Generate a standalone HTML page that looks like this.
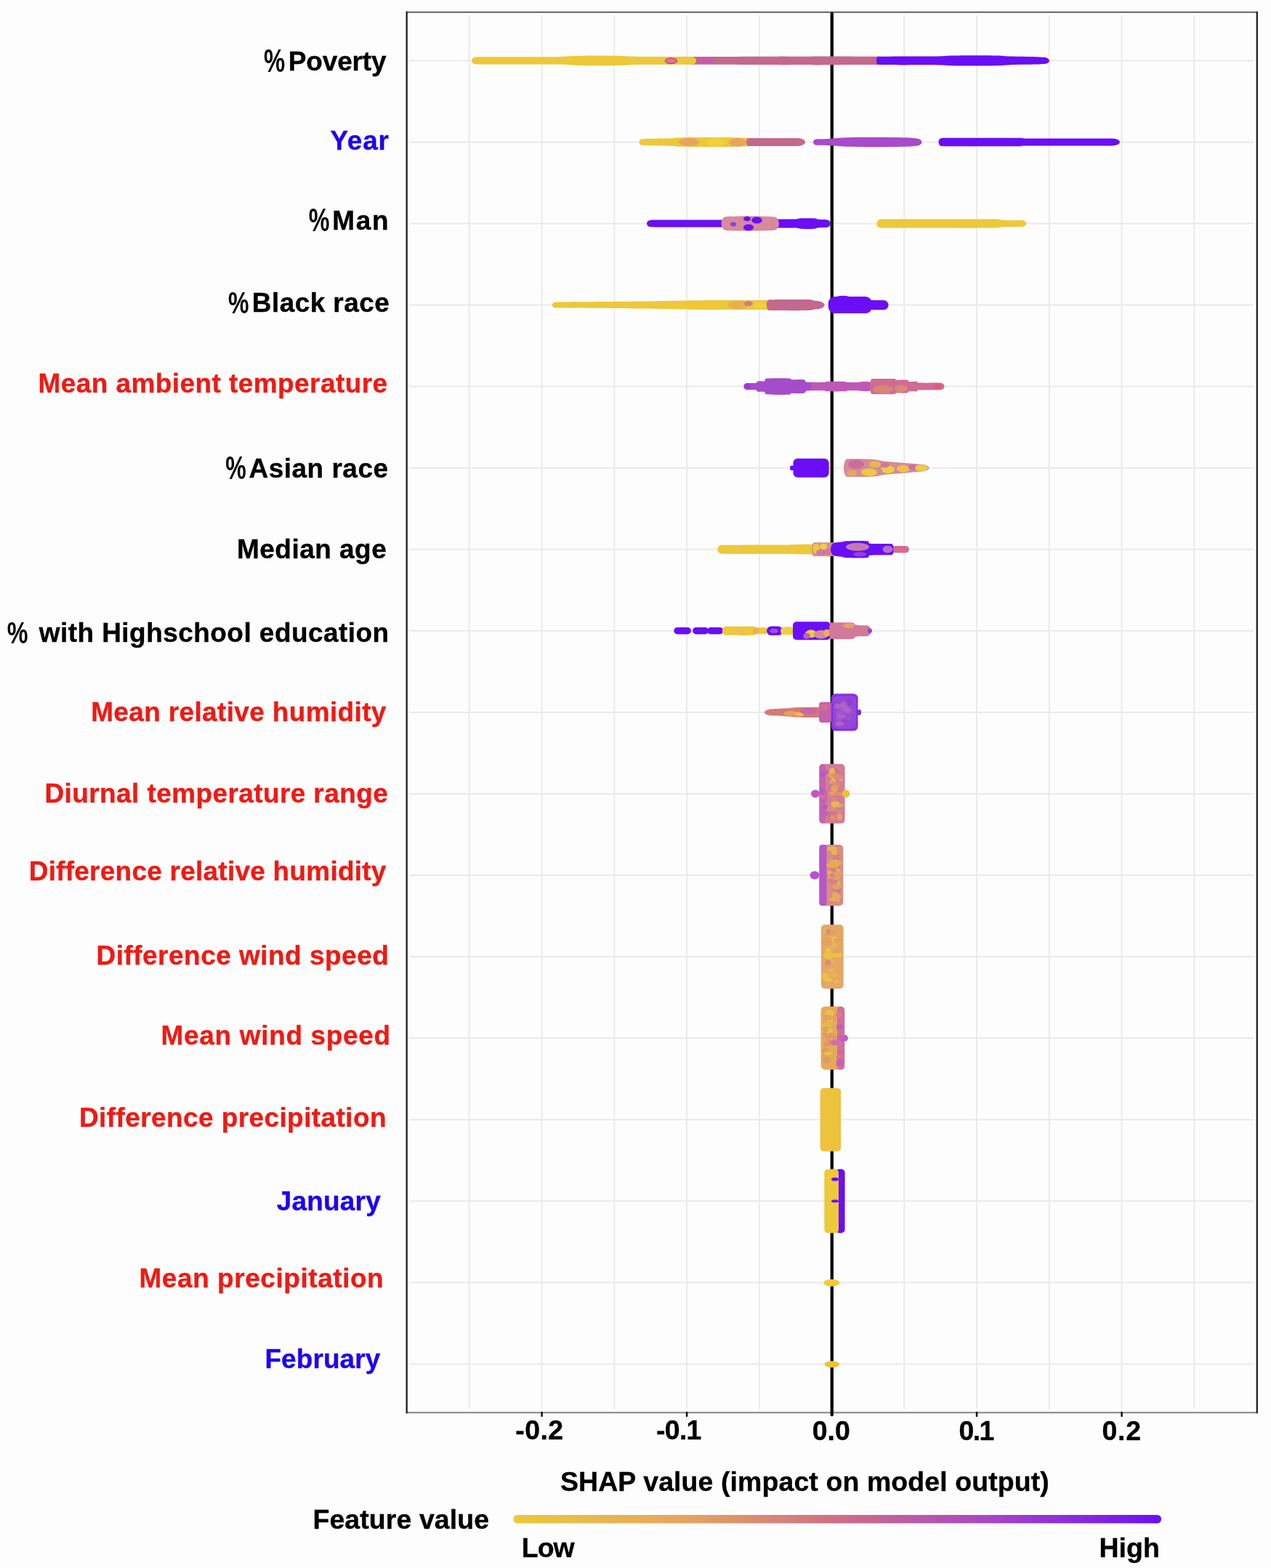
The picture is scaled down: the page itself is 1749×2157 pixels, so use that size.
<!DOCTYPE html><html><head><meta charset="utf-8"><title>SHAP summary plot</title><style>
html,body{margin:0;padding:0;background:#fdfdfd;overflow:hidden;}
svg{display:block;}
text{font-family:"Liberation Sans",Arial,sans-serif;font-weight:bold;}
</style></head><body>
<svg width="1749" height="2157" viewBox="0 0 1749 2157">
<defs><linearGradient id="cb" x1="0" x2="1" y1="0" y2="0"><stop offset="0" stop-color="#EBC83C"/><stop offset="0.25" stop-color="#E4A85E"/><stop offset="0.5" stop-color="#CF6E86"/><stop offset="0.75" stop-color="#A444C8"/><stop offset="1" stop-color="#6A10F6"/></linearGradient></defs>
<rect width="1749" height="2157" fill="#FDFDFD"/>
<line x1="645.8" y1="21" x2="645.8" y2="1938" stroke="#EAEAEA" stroke-width="2"/>
<line x1="745.6" y1="21" x2="745.6" y2="1938" stroke="#EAEAEA" stroke-width="2"/>
<line x1="845.3" y1="21" x2="845.3" y2="1938" stroke="#EAEAEA" stroke-width="2"/>
<line x1="945.1" y1="21" x2="945.1" y2="1938" stroke="#EAEAEA" stroke-width="2"/>
<line x1="1044.8" y1="21" x2="1044.8" y2="1938" stroke="#EAEAEA" stroke-width="2"/>
<line x1="1244.3" y1="21" x2="1244.3" y2="1938" stroke="#EAEAEA" stroke-width="2"/>
<line x1="1344.1" y1="21" x2="1344.1" y2="1938" stroke="#EAEAEA" stroke-width="2"/>
<line x1="1443.8" y1="21" x2="1443.8" y2="1938" stroke="#EAEAEA" stroke-width="2"/>
<line x1="1543.6" y1="21" x2="1543.6" y2="1938" stroke="#EAEAEA" stroke-width="2"/>
<line x1="1643.3" y1="21" x2="1643.3" y2="1938" stroke="#EAEAEA" stroke-width="2"/>
<line x1="564" y1="83.4" x2="1725" y2="83.4" stroke="#EAEAEA" stroke-width="2"/>
<line x1="564" y1="195.5" x2="1725" y2="195.5" stroke="#EAEAEA" stroke-width="2"/>
<line x1="564" y1="307.5" x2="1725" y2="307.5" stroke="#EAEAEA" stroke-width="2"/>
<line x1="564" y1="419.6" x2="1725" y2="419.6" stroke="#EAEAEA" stroke-width="2"/>
<line x1="564" y1="531.6" x2="1725" y2="531.6" stroke="#EAEAEA" stroke-width="2"/>
<line x1="564" y1="643.7" x2="1725" y2="643.7" stroke="#EAEAEA" stroke-width="2"/>
<line x1="564" y1="755.8" x2="1725" y2="755.8" stroke="#EAEAEA" stroke-width="2"/>
<line x1="564" y1="867.8" x2="1725" y2="867.8" stroke="#EAEAEA" stroke-width="2"/>
<line x1="564" y1="979.9" x2="1725" y2="979.9" stroke="#EAEAEA" stroke-width="2"/>
<line x1="564" y1="1091.9" x2="1725" y2="1091.9" stroke="#EAEAEA" stroke-width="2"/>
<line x1="564" y1="1204.0" x2="1725" y2="1204.0" stroke="#EAEAEA" stroke-width="2"/>
<line x1="564" y1="1316.1" x2="1725" y2="1316.1" stroke="#EAEAEA" stroke-width="2"/>
<line x1="564" y1="1428.1" x2="1725" y2="1428.1" stroke="#EAEAEA" stroke-width="2"/>
<line x1="564" y1="1540.2" x2="1725" y2="1540.2" stroke="#EAEAEA" stroke-width="2"/>
<line x1="564" y1="1652.2" x2="1725" y2="1652.2" stroke="#EAEAEA" stroke-width="2"/>
<line x1="564" y1="1764.3" x2="1725" y2="1764.3" stroke="#EAEAEA" stroke-width="2"/>
<line x1="564" y1="1876.4" x2="1725" y2="1876.4" stroke="#EAEAEA" stroke-width="2"/>
<line x1="559.7" y1="16.7" x2="1729.8" y2="16.7" stroke="#606060" stroke-width="2"/>
<line x1="559.7" y1="1943.3" x2="1729.8" y2="1943.3" stroke="#858585" stroke-width="2"/>
<line x1="559.7" y1="15.8" x2="559.7" y2="1944.2" stroke="#1E1E1E" stroke-width="2.3"/>
<line x1="1729.8" y1="15.8" x2="1729.8" y2="1944.2" stroke="#1E1E1E" stroke-width="2.3"/>
<line x1="1144.8" y1="18.8" x2="1144.8" y2="1946.3" stroke="#000" stroke-width="4.3" stroke-linecap="round"/>
<line x1="745.6" y1="1943" x2="745.6" y2="1948" stroke="#111" stroke-width="2.5" stroke-linecap="round"/>
<line x1="945.1" y1="1943" x2="945.1" y2="1948" stroke="#111" stroke-width="2.5" stroke-linecap="round"/>
<line x1="1344.1" y1="1943" x2="1344.1" y2="1948" stroke="#111" stroke-width="2.5" stroke-linecap="round"/>
<line x1="1543.6" y1="1943" x2="1543.6" y2="1948" stroke="#111" stroke-width="2.5" stroke-linecap="round"/>
<g>
<path d="M950.0,78.0 C968.3,78.0 1039.2,77.9 1060.0,77.8 C1080.8,77.7 1069.2,77.4 1075.0,77.4 C1080.8,77.4 1086.7,77.8 1095.0,77.8 C1103.3,77.8 1117.5,77.4 1125.0,77.4 C1132.5,77.4 1125.8,77.5 1140.0,77.6 C1154.2,77.7 1198.3,77.8 1210.0,77.8 A5.6,5.6 0 0 1 1210.0,89.0 C1198.3,89.0 1154.2,89.1 1140.0,89.2 C1125.8,89.3 1132.5,89.4 1125.0,89.4 C1117.5,89.4 1103.3,89.0 1095.0,89.0 C1086.7,89.0 1080.8,89.4 1075.0,89.4 C1069.2,89.4 1080.8,89.1 1060.0,89.0 C1039.2,88.9 968.3,88.8 950.0,88.8 A3.0,5.4 0 0 1 950.0,78.0Z" fill="#C4688E" />
<ellipse cx="972.0" cy="83.4" rx="12.0" ry="4.0" fill="#C65AB0" />
<path d="M654.0,78.8 C655.8,78.7 647.3,78.4 665.0,78.3 C682.7,78.2 739.2,78.4 760.0,78.2 C780.8,78.0 780.5,77.3 790.0,77.0 C799.5,76.7 807.0,76.4 817.0,76.4 C827.0,76.4 839.5,76.6 850.0,76.8 C860.5,77.1 863.0,77.7 880.0,77.9 C897.0,78.1 940.0,78.0 952.0,78.1 A6.0,5.3 0 0 1 952.0,88.8 C940.0,88.8 897.0,88.7 880.0,88.9 C863.0,89.1 860.5,89.8 850.0,90.0 C839.5,90.2 827.0,90.4 817.0,90.4 C807.0,90.4 799.5,90.1 790.0,89.8 C780.5,89.5 780.8,88.8 760.0,88.6 C739.2,88.4 682.7,88.6 665.0,88.5 C647.3,88.4 655.8,88.1 654.0,88.0 A5.0,4.6 0 0 1 654.0,78.8Z" fill="#EDC83A" />
<ellipse cx="923.5" cy="83.7" rx="8.0" ry="3.8" fill="#D87898" stroke="#C0506A" stroke-width="1.4"/>
<path d="M1208.0,77.8 C1213.3,77.7 1226.3,77.5 1240.0,77.4 C1253.7,77.3 1278.3,77.6 1290.0,77.4 C1301.7,77.2 1301.7,76.7 1310.0,76.5 C1318.3,76.3 1329.5,76.2 1340.0,76.2 C1350.5,76.2 1364.7,76.3 1373.0,76.5 C1381.3,76.7 1381.3,77.3 1390.0,77.6 C1398.7,77.9 1417.3,78.0 1425.0,78.2 C1432.7,78.4 1434.2,78.7 1436.0,78.8 A8.0,4.6 0 0 1 1436.0,88.0 C1434.2,88.1 1432.7,88.4 1425.0,88.6 C1417.3,88.8 1398.7,88.9 1390.0,89.2 C1381.3,89.5 1381.3,90.1 1373.0,90.3 C1364.7,90.5 1350.5,90.6 1340.0,90.6 C1329.5,90.6 1318.3,90.5 1310.0,90.3 C1301.7,90.1 1301.7,89.6 1290.0,89.4 C1278.3,89.2 1253.7,89.5 1240.0,89.4 C1226.3,89.3 1213.3,89.1 1208.0,89.0 A2.0,5.6 0 0 1 1208.0,77.8Z" fill="#6A0EF6" />
<path d="M884.0,191.3 C885.8,191.2 888.2,190.9 895.0,190.8 C901.8,190.6 918.3,190.4 925.0,190.2 C931.7,189.9 924.2,189.4 935.0,189.2 C945.8,189.0 976.7,188.9 990.0,189.0 C1003.3,189.0 1008.0,189.1 1015.0,189.3 C1022.0,189.4 1029.2,189.8 1032.0,189.9 A5.6,5.6 0 0 1 1032.0,201.1 C1029.2,201.2 1022.0,201.5 1015.0,201.7 C1008.0,201.8 1003.3,201.9 990.0,202.0 C976.7,202.0 945.8,202.0 935.0,201.8 C924.2,201.6 931.7,201.0 925.0,200.8 C918.3,200.5 901.8,200.3 895.0,200.2 C888.2,200.0 885.8,199.7 884.0,199.7 A4.6,4.2 0 0 1 884.0,191.3Z" fill="#EDC83A" />
<ellipse cx="948.0" cy="195.5" rx="14.0" ry="5.8" fill="#E6A55E" />
<ellipse cx="985.0" cy="195.5" rx="12.0" ry="6.0" fill="#F0D03C" />
<ellipse cx="1015.0" cy="196.0" rx="12.0" ry="5.8" fill="#E6A55E" />
<path d="M1030.0,189.9 C1040.8,189.9 1083.3,190.0 1095.0,190.1 C1106.7,190.2 1099.2,190.4 1100.0,190.5 A8.0,5.0 0 0 1 1100.0,200.5 C1099.2,200.5 1106.7,200.8 1095.0,200.9 C1083.3,201.0 1040.8,201.0 1030.0,201.1 A3.0,5.6 0 0 1 1030.0,189.9Z" fill="#C4688E" />
<path d="M1124.0,191.2 C1126.7,191.1 1133.2,191.2 1140.0,190.9 C1146.8,190.5 1155.0,189.5 1165.0,189.2 C1175.0,188.8 1186.7,188.7 1200.0,188.7 C1213.3,188.7 1235.0,188.9 1245.0,189.2 C1255.0,189.4 1257.5,190.1 1260.0,190.3 A8.5,5.2 0 0 1 1260.0,200.7 C1257.5,200.8 1255.0,201.5 1245.0,201.8 C1235.0,202.0 1213.3,202.3 1200.0,202.3 C1186.7,202.3 1175.0,202.1 1165.0,201.8 C1155.0,201.4 1146.8,200.4 1140.0,200.1 C1133.2,199.7 1126.7,199.8 1124.0,199.8 A5.0,4.3 0 0 1 1124.0,191.2Z" fill="#A74ACB" />
<path d="M1296.0,190.0 C1298.3,189.9 1292.0,189.8 1310.0,189.8 C1328.0,189.7 1387.0,189.6 1404.0,189.8 C1421.0,189.9 1391.0,190.3 1412.0,190.5 C1433.0,190.6 1510.3,190.5 1530.0,190.5 A11.0,5.0 0 0 1 1530.0,200.5 C1510.3,200.5 1433.0,200.3 1412.0,200.5 C1391.0,200.6 1421.0,201.0 1404.0,201.2 C1387.0,201.3 1328.0,201.2 1310.0,201.2 C1292.0,201.1 1298.3,201.0 1296.0,201.0 A4.5,5.5 0 0 1 1296.0,190.0Z" fill="#6A0EF6" />
<path d="M895.0,302.9 C896.7,302.9 889.2,302.7 905.0,302.6 C920.8,302.6 974.2,302.6 990.0,302.5 C1005.8,302.4 985.8,302.2 1000.0,302.0 C1014.2,301.9 1059.2,301.6 1075.0,301.5 C1090.8,301.4 1090.5,301.7 1095.0,301.5 C1099.5,301.3 1097.8,300.5 1102.0,300.3 C1106.2,300.1 1116.0,300.1 1120.0,300.3 C1124.0,300.6 1123.3,301.4 1126.0,301.7 C1128.7,302.0 1134.3,302.0 1136.0,302.0 A7.0,5.5 0 0 1 1136.0,313.0 C1134.3,313.1 1128.7,313.0 1126.0,313.3 C1123.3,313.6 1124.0,314.5 1120.0,314.7 C1116.0,315.0 1106.2,314.9 1102.0,314.7 C1097.8,314.5 1099.5,313.7 1095.0,313.5 C1090.5,313.3 1090.8,313.6 1075.0,313.5 C1059.2,313.4 1014.2,313.2 1000.0,313.0 C985.8,312.9 1005.8,312.6 990.0,312.5 C974.2,312.4 920.8,312.5 905.0,312.4 C889.2,312.4 896.7,312.2 895.0,312.1 A5.0,4.6 0 0 1 895.0,302.9Z" fill="#6A0EF6" />
<path d="M999.0,298.0 C1000.0,298.0 999.8,297.8 1005.0,297.7 C1010.2,297.6 1020.8,297.3 1030.0,297.3 C1039.2,297.4 1054.0,297.7 1060.0,297.9 C1066.0,298.1 1065.0,298.4 1066.0,298.5 A6.0,9.0 0 0 1 1066.0,316.5 C1065.0,316.6 1066.0,316.9 1060.0,317.1 C1054.0,317.3 1039.2,317.7 1030.0,317.7 C1020.8,317.8 1010.2,317.4 1005.0,317.3 C999.8,317.2 1000.0,317.1 999.0,317.0 A6.5,9.5 0 0 1 999.0,298.0Z" fill="#D68A9C" />
<ellipse cx="1041.5" cy="302.9" rx="7.3" ry="4.6" fill="#6A0EF6" />
<ellipse cx="1028.0" cy="301.0" rx="5.0" ry="3.2" fill="#6A0EF6" />
<ellipse cx="1030.0" cy="312.8" rx="7.2" ry="4.4" fill="#6A0EF6" />
<ellipse cx="1009.0" cy="308.5" rx="4.0" ry="3.0" fill="#8A40E0" />
<path d="M1212.0,301.5 C1213.0,301.5 1191.7,301.5 1218.0,301.5 C1244.3,301.5 1343.8,301.3 1370.0,301.5 C1396.2,301.8 1369.2,302.7 1375.0,302.9 C1380.8,303.2 1400.0,302.9 1405.0,302.9 A7.5,4.6 0 0 1 1405.0,312.1 C1400.0,312.1 1380.8,311.9 1375.0,312.1 C1369.2,312.4 1396.2,313.3 1370.0,313.5 C1343.8,313.8 1244.3,313.5 1218.0,313.5 C1191.7,313.5 1213.0,313.5 1212.0,313.5 A5.6,6.0 0 0 1 1212.0,301.5Z" fill="#EDC83A" />
<path d="M764.0,415.8 C765.3,415.7 752.7,415.8 772.0,415.6 C791.3,415.4 848.7,415.0 880.0,414.6 C911.3,414.2 938.3,413.5 960.0,413.3 C981.7,413.0 995.0,413.1 1010.0,413.1 C1025.0,413.0 1041.7,413.1 1050.0,413.1 C1058.3,413.1 1058.3,413.1 1060.0,413.1 A6.5,6.5 0 0 1 1060.0,426.1 C1058.3,426.1 1058.3,426.1 1050.0,426.1 C1041.7,426.1 1025.0,426.1 1010.0,426.1 C995.0,426.0 981.7,426.1 960.0,425.9 C938.3,425.6 911.3,425.0 880.0,424.6 C848.7,424.2 791.3,423.8 772.0,423.6 C752.7,423.4 765.3,423.4 764.0,423.4 A4.0,3.8 0 0 1 764.0,415.8Z" fill="#EDC83A" />
<path d="M1058.0,412.2 C1066.7,412.2 1099.7,411.9 1110.0,412.1 C1120.3,412.3 1118.3,413.2 1120.0,413.4 A14.7,6.2 0 0 1 1120.0,425.8 C1118.3,426.0 1120.3,426.9 1110.0,427.1 C1099.7,427.3 1066.7,427.0 1058.0,427.0 A3.0,7.4 0 0 1 1058.0,412.2Z" fill="#C4688E" />
<ellipse cx="1015.0" cy="419.6" rx="14.0" ry="6.0" fill="#E8B04A" />
<ellipse cx="1030.0" cy="417.6" rx="6.0" ry="3.5" fill="#D07A8A" />
<ellipse cx="1045.0" cy="420.6" rx="8.0" ry="5.0" fill="#F0D03C" />
<rect x="1190.0" y="413.0" width="32.6" height="13.2" rx="6.6" fill="#6A0EF6" />
<rect x="1139.8" y="408.1" width="60.2" height="23.0" rx="9.0" fill="#6A0EF6" />
<ellipse cx="1160.0" cy="418.6" rx="18.0" ry="11.8" fill="#6A0EF6" />
<ellipse cx="1182.0" cy="419.6" rx="16.0" ry="11.3" fill="#6A0EF6" />
<path d="M1110.0,525.8 C1114.0,525.8 1129.3,526.0 1134.0,525.8 C1138.7,525.7 1133.3,525.1 1138.0,524.9 C1142.7,524.8 1157.3,524.8 1162.0,524.9 C1166.7,525.1 1162.7,525.7 1166.0,525.8 C1169.3,526.0 1178.7,526.0 1182.0,525.8 C1185.3,525.7 1183.7,525.3 1186.0,525.1 C1188.3,525.0 1194.3,525.1 1196.0,525.1 A3.0,6.5 0 0 1 1196.0,538.1 C1194.3,538.1 1188.3,538.3 1186.0,538.1 C1183.7,538.0 1185.3,537.6 1182.0,537.4 C1178.7,537.3 1169.3,537.3 1166.0,537.4 C1162.7,537.6 1166.7,538.2 1162.0,538.3 C1157.3,538.5 1142.7,538.5 1138.0,538.3 C1133.3,538.2 1138.7,537.6 1134.0,537.4 C1129.3,537.3 1114.0,537.4 1110.0,537.4 A2.0,5.8 0 0 1 1110.0,525.8Z" fill="#BE58B8" />
<path d="M1028.0,527.0 C1030.0,527.0 1037.5,527.3 1040.0,526.8 C1042.5,526.4 1041.0,524.9 1043.0,524.4 C1045.0,524.0 1049.8,524.9 1052.0,524.2 C1054.2,523.6 1050.3,521.3 1056.0,520.6 C1061.7,520.0 1080.5,520.2 1086.0,520.4 C1091.5,520.7 1085.8,521.9 1089.0,522.1 C1092.2,522.4 1101.5,521.5 1105.0,522.1 C1108.5,522.8 1108.5,525.2 1110.0,525.8 C1111.5,526.5 1113.3,525.8 1114.0,525.8 A3.0,5.8 0 0 1 1114.0,537.4 C1113.3,537.4 1111.5,536.8 1110.0,537.4 C1108.5,538.1 1108.5,540.5 1105.0,541.1 C1101.5,541.8 1092.2,540.9 1089.0,541.1 C1085.8,541.4 1091.5,542.6 1086.0,542.8 C1080.5,543.1 1061.7,543.3 1056.0,542.6 C1050.3,542.0 1054.2,539.7 1052.0,539.0 C1049.8,538.4 1045.0,539.3 1043.0,538.8 C1041.0,538.4 1042.5,536.9 1040.0,536.4 C1037.5,536.0 1030.0,536.3 1028.0,536.2 A4.5,4.6 0 0 1 1028.0,527.0Z" fill="#A54CCB" />
<ellipse cx="1028.0" cy="531.6" rx="4.4" ry="4.3" fill="#9A3AE0" />
<path d="M1200.0,521.0 C1205.0,521.0 1224.5,520.8 1230.0,521.0 C1235.5,521.3 1230.0,522.4 1233.0,522.6 C1236.0,522.9 1245.0,522.3 1248.0,522.6 C1251.0,523.0 1248.7,524.6 1251.0,524.9 C1253.3,525.3 1259.7,524.7 1262.0,524.9 C1264.3,525.2 1259.8,526.4 1265.0,526.6 C1270.2,526.9 1288.3,526.6 1293.0,526.6 A6.6,5.0 0 0 1 1293.0,536.6 C1288.3,536.6 1270.2,536.4 1265.0,536.6 C1259.8,536.9 1264.3,538.1 1262.0,538.3 C1259.7,538.6 1253.3,538.0 1251.0,538.3 C1248.7,538.7 1251.0,540.3 1248.0,540.6 C1245.0,541.0 1236.0,540.4 1233.0,540.6 C1230.0,540.9 1235.5,542.0 1230.0,542.2 C1224.5,542.5 1205.0,542.2 1200.0,542.2 A3.0,10.6 0 0 1 1200.0,521.0Z" fill="#CF6C92" />
<ellipse cx="1215.0" cy="535.6" rx="14.0" ry="6.0" fill="#D88478" />
<ellipse cx="1240.0" cy="534.6" rx="9.0" ry="5.0" fill="#D6887E" />
<ellipse cx="1290.0" cy="531.6" rx="5.0" ry="3.5" fill="#E05878" />
<rect x="1091.5" y="630.7" width="49.0" height="26.0" rx="6.0" fill="#6A0EF6" />
<rect x="1120.0" y="632.2" width="20.5" height="23.0" rx="5.0" fill="#6A0EF6" />
<ellipse cx="1090.0" cy="643.7" rx="3.0" ry="3.5" fill="#6A0EF6" />
<path d="M1166.0,631.3 C1170.0,631.3 1183.5,631.2 1190.0,631.4 C1196.5,631.5 1200.8,631.7 1205.0,632.2 C1209.2,632.7 1210.5,633.6 1215.0,634.2 C1219.5,634.8 1226.2,635.2 1232.0,635.7 C1237.8,636.2 1244.3,636.7 1250.0,637.2 C1255.7,637.7 1263.3,638.4 1266.0,638.7 A12.4,5.0 0 0 1 1266.0,648.7 C1263.3,648.9 1255.7,649.7 1250.0,650.2 C1244.3,650.7 1237.8,651.2 1232.0,651.7 C1226.2,652.2 1219.5,652.6 1215.0,653.2 C1210.5,653.8 1209.2,654.7 1205.0,655.2 C1200.8,655.7 1196.5,655.8 1190.0,656.0 C1183.5,656.1 1170.0,656.1 1166.0,656.1 A5.0,12.4 0 0 1 1166.0,631.3Z" fill="#D58A98" />
<ellipse cx="1178.0" cy="638.7" rx="11.0" ry="6.5" fill="#CC6E9A" />
<ellipse cx="1196.0" cy="649.7" rx="11.0" ry="5.5" fill="#EDC840" />
<ellipse cx="1172.0" cy="650.7" rx="7.0" ry="4.5" fill="#E0A860" />
<ellipse cx="1204.0" cy="638.7" rx="8.0" ry="4.5" fill="#E8B850" />
<ellipse cx="1222.0" cy="645.7" rx="9.0" ry="5.5" fill="#EFCB45" />
<ellipse cx="1218.0" cy="639.7" rx="6.0" ry="3.5" fill="#D07898" />
<ellipse cx="1243.0" cy="644.7" rx="9.0" ry="5.0" fill="#EDC045" />
<ellipse cx="1256.0" cy="642.7" rx="6.0" ry="4.0" fill="#C870A8" />
<ellipse cx="1268.0" cy="643.7" rx="9.0" ry="4.2" fill="#F0CC40" />
<path d="M993.0,749.9 C994.2,749.8 985.5,749.7 1000.0,749.7 C1014.5,749.6 1063.3,749.6 1080.0,749.5 C1096.7,749.3 1093.3,749.1 1100.0,749.0 C1106.7,748.8 1116.7,748.8 1120.0,748.8 A7.0,7.0 0 0 1 1120.0,762.8 C1116.7,762.7 1106.7,762.7 1100.0,762.6 C1093.3,762.4 1096.7,762.2 1080.0,762.1 C1063.3,761.9 1014.5,761.9 1000.0,761.9 C985.5,761.8 994.2,761.7 993.0,761.7 A5.7,5.9 0 0 1 993.0,749.9Z" fill="#EDC83A" />
<path d="M1120.0,746.3 C1124.3,746.3 1141.7,746.3 1146.0,746.3 A3.0,9.5 0 0 1 1146.0,765.3 C1141.7,765.3 1124.3,765.3 1120.0,765.3 A3.0,9.5 0 0 1 1120.0,746.3Z" fill="#D98E8C" />
<ellipse cx="1123.0" cy="754.8" rx="5.0" ry="7.0" fill="#EDC840" />
<ellipse cx="1133.0" cy="751.8" rx="5.0" ry="4.0" fill="#F0D03C" />
<ellipse cx="1130.0" cy="759.8" rx="7.0" ry="4.0" fill="#C878A8" />
<ellipse cx="1140.0" cy="758.8" rx="4.0" ry="4.0" fill="#D77890" />
<path d="M1149.0,746.5 C1150.8,746.3 1157.3,745.6 1160.0,745.3 C1162.7,744.9 1159.5,744.4 1165.0,744.3 C1170.5,744.1 1187.5,743.7 1193.0,744.3 C1198.5,744.8 1192.5,747.1 1198.0,747.8 C1203.5,748.4 1221.3,747.9 1226.0,748.0 A4.5,7.8 0 0 1 1226.0,763.6 C1221.3,763.6 1203.5,763.1 1198.0,763.8 C1192.5,764.4 1198.5,766.7 1193.0,767.3 C1187.5,767.8 1170.5,767.4 1165.0,767.3 C1159.5,767.1 1162.7,766.6 1160.0,766.3 C1157.3,765.9 1150.8,765.3 1149.0,765.1 A6.0,9.3 0 0 1 1149.0,746.5Z" fill="#6A0EF6" />
<ellipse cx="1180.0" cy="752.3" rx="16.0" ry="5.5" fill="#C47AB0" />
<ellipse cx="1183.0" cy="762.3" rx="9.0" ry="3.0" fill="#9A40E0" />
<ellipse cx="1221.5" cy="755.8" rx="7.0" ry="5.0" fill="#B070C8" />
<path d="M1232.0,751.0 C1234.3,751.0 1243.7,751.0 1246.0,751.0 A5.0,4.8 0 0 1 1246.0,760.6 C1243.7,760.6 1234.3,760.6 1232.0,760.6 A3.0,4.8 0 0 1 1232.0,751.0Z" fill="#D7698C" />
<rect x="927.3" y="863.1" width="23.7" height="9.4" rx="4.7" fill="#6A0EF6" />
<rect x="953.0" y="863.1" width="22.0" height="9.4" rx="4.7" fill="#6A0EF6" />
<rect x="973.0" y="863.1" width="22.5" height="9.4" rx="4.7" fill="#6A0EF6" />
<path d="M998.0,861.8 C1004.3,861.8 1029.0,861.6 1036.0,861.8 C1043.0,862.1 1037.2,863.0 1040.0,863.2 C1042.8,863.5 1050.8,863.2 1053.0,863.2 A3.0,4.6 0 0 1 1053.0,872.4 C1050.8,872.4 1042.8,872.2 1040.0,872.4 C1037.2,872.7 1043.0,873.6 1036.0,873.8 C1029.0,874.1 1004.3,873.8 998.0,873.8 A4.0,6.0 0 0 1 998.0,861.8Z" fill="#EDC83A" />
<ellipse cx="1040.0" cy="867.8" rx="4.0" ry="4.0" fill="#E8B050" />
<ellipse cx="1020.0" cy="868.8" rx="6.0" ry="4.0" fill="#EDC050" />
<rect x="1055.0" y="861.5" width="22.0" height="12.6" rx="6.3" fill="#6A0EF6" />
<ellipse cx="1065.0" cy="867.8" rx="6.0" ry="3.0" fill="#A050D8" />
<rect x="1074.0" y="862.3" width="19.0" height="11.0" rx="5.5" fill="#F0D03C" />
<rect x="1091.0" y="855.3" width="51.6" height="25.0" rx="5.0" fill="#6A0EF6" />
<ellipse cx="1116.0" cy="871.8" rx="8.0" ry="5.5" fill="#EEC848" />
<ellipse cx="1130.0" cy="872.8" rx="10.0" ry="6.0" fill="#D7889A" />
<ellipse cx="1110.0" cy="874.8" rx="5.0" ry="4.0" fill="#B860C8" />
<ellipse cx="1138.0" cy="870.8" rx="5.0" ry="5.0" fill="#E8B050" />
<path d="M1143.0,856.5 C1147.8,856.5 1166.2,856.0 1172.0,856.5 C1177.8,857.1 1174.7,859.2 1178.0,859.8 C1181.3,860.5 1189.7,860.2 1192.0,860.3 A7.0,7.5 0 0 1 1192.0,875.3 C1189.7,875.4 1181.3,875.2 1178.0,875.8 C1174.7,876.5 1177.8,878.6 1172.0,879.1 C1166.2,879.7 1147.8,879.1 1143.0,879.1 A2.0,11.3 0 0 1 1143.0,856.5Z" fill="#D27898" />
<ellipse cx="1168.0" cy="860.8" rx="8.0" ry="3.5" fill="#E4A070" />
<ellipse cx="1197.0" cy="867.8" rx="3.0" ry="3.0" fill="#8A40E0" />
<path d="M1064.0,975.3 C1066.7,975.2 1074.0,974.9 1080.0,974.6 C1086.0,974.2 1091.7,973.4 1100.0,973.1 C1108.3,972.8 1125.0,972.7 1130.0,972.7 A7.2,7.2 0 0 1 1130.0,987.1 C1125.0,987.0 1108.3,987.0 1100.0,986.7 C1091.7,986.4 1086.0,985.5 1080.0,985.2 C1074.0,984.8 1066.7,984.6 1064.0,984.5 A12.0,4.6 0 0 1 1064.0,975.3Z" fill="#D67878" />
<ellipse cx="1088.0" cy="981.4" rx="10.0" ry="3.5" fill="#E6A450" />
<ellipse cx="1100.0" cy="982.4" rx="6.0" ry="3.0" fill="#EBBE40" />
<ellipse cx="1113.0" cy="978.4" rx="12.0" ry="4.5" fill="#C866A8" />
<rect x="1127.0" y="965.8" width="18.0" height="28.2" rx="4.0" fill="#C262A8" />
<ellipse cx="1134.0" cy="972.9" rx="7.0" ry="5.0" fill="#D06C98" />
<rect x="1143.7" y="954.3" width="36.9" height="51.2" rx="6.0" fill="#8232E2" />
<rect x="1146.5" y="957.4" width="31.5" height="45.0" rx="6.0" fill="#9646D4" />
<ellipse cx="1155.2" cy="986.1" rx="4.9" ry="5.9" fill="#A25ACC" fill-opacity="0.85"/>
<ellipse cx="1162.1" cy="976.8" rx="4.5" ry="5.4" fill="#A25ACC" fill-opacity="0.85"/>
<ellipse cx="1161.9" cy="969.6" rx="5.8" ry="4.4" fill="#B066C6" fill-opacity="0.85"/>
<ellipse cx="1152.7" cy="971.8" rx="4.4" ry="3.7" fill="#B066C6" fill-opacity="0.85"/>
<ellipse cx="1165.7" cy="984.9" rx="5.9" ry="5.7" fill="#A25ACC" fill-opacity="0.85"/>
<ellipse cx="1163.5" cy="975.5" rx="8.0" ry="3.2" fill="#A25ACC" fill-opacity="0.85"/>
<ellipse cx="1162.0" cy="984.6" rx="5.4" ry="5.1" fill="#8C3CDA" fill-opacity="0.85"/>
<ellipse cx="1155.3" cy="995.6" rx="6.3" ry="3.4" fill="#B066C6" fill-opacity="0.85"/>
<ellipse cx="1167.2" cy="978.3" rx="6.8" ry="3.4" fill="#B066C6" fill-opacity="0.85"/>
<ellipse cx="1168.7" cy="967.5" rx="5.1" ry="4.1" fill="#A25ACC" fill-opacity="0.85"/>
<ellipse cx="1159.7" cy="984.8" rx="6.1" ry="3.9" fill="#B066C6" fill-opacity="0.85"/>
<ellipse cx="1156.4" cy="980.9" rx="6.0" ry="3.6" fill="#A25ACC" fill-opacity="0.85"/>
<ellipse cx="1167.6" cy="981.3" rx="7.2" ry="5.6" fill="#9A4CD2" fill-opacity="0.85"/>
<ellipse cx="1159.2" cy="971.5" rx="5.0" ry="3.0" fill="#B066C6" fill-opacity="0.85"/>
<ellipse cx="1165.7" cy="977.0" rx="5.0" ry="3.9" fill="#B066C6" fill-opacity="0.85"/>
<ellipse cx="1168.7" cy="965.5" rx="4.5" ry="5.8" fill="#8C3CDA" fill-opacity="0.85"/>
<ellipse cx="1182.0" cy="979.9" rx="3.2" ry="4.0" fill="#7A30D0" />
<rect x="1127.4" y="1051.0" width="35.2" height="81.8" rx="5.0" fill="#D27C98" />
<rect x="1127.4" y="1051.0" width="8.6" height="81.8" rx="5.0" fill="#C464B2" />
<ellipse cx="1144.0" cy="1118.0" rx="4.9" ry="3.4" fill="#E6A060" />
<ellipse cx="1151.2" cy="1080.2" rx="4.4" ry="3.7" fill="#E09068" />
<ellipse cx="1145.1" cy="1122.9" rx="5.8" ry="4.3" fill="#CC7098" />
<ellipse cx="1142.6" cy="1092.4" rx="3.6" ry="3.1" fill="#E09068" />
<ellipse cx="1154.9" cy="1118.9" rx="3.3" ry="4.2" fill="#D98A80" />
<ellipse cx="1154.6" cy="1119.9" rx="3.8" ry="3.1" fill="#D98A80" />
<ellipse cx="1147.6" cy="1059.5" rx="6.6" ry="3.5" fill="#E6A060" />
<ellipse cx="1148.1" cy="1091.3" rx="6.5" ry="2.6" fill="#E6A060" />
<ellipse cx="1155.5" cy="1124.1" rx="3.9" ry="4.3" fill="#E6A060" />
<ellipse cx="1156.6" cy="1071.1" rx="3.5" ry="3.9" fill="#E6A060" />
<ellipse cx="1154.5" cy="1092.0" rx="6.6" ry="2.8" fill="#E09068" />
<ellipse cx="1148.3" cy="1085.0" rx="5.0" ry="4.8" fill="#E6A060" />
<ellipse cx="1155.4" cy="1107.8" rx="5.8" ry="2.9" fill="#E6A060" />
<ellipse cx="1151.5" cy="1067.3" rx="3.2" ry="3.9" fill="#D98A80" />
<ellipse cx="1143.4" cy="1117.8" rx="5.9" ry="3.9" fill="#CC7098" />
<ellipse cx="1150.8" cy="1059.1" rx="6.8" ry="3.1" fill="#D98A80" />
<ellipse cx="1150.3" cy="1105.2" rx="6.4" ry="3.8" fill="#D98A80" />
<ellipse cx="1147.1" cy="1072.1" rx="3.4" ry="4.7" fill="#E8B850" />
<ellipse cx="1144.1" cy="1112.9" rx="6.9" ry="3.9" fill="#D98A80" />
<ellipse cx="1144.2" cy="1075.3" rx="3.0" ry="2.8" fill="#E6A060" />
<ellipse cx="1149.8" cy="1060.1" rx="4.2" ry="3.2" fill="#CC7098" />
<ellipse cx="1149.5" cy="1106.4" rx="6.1" ry="4.5" fill="#E8B850" />
<ellipse cx="1151.6" cy="1062.6" rx="5.3" ry="2.7" fill="#CC7098" />
<ellipse cx="1150.4" cy="1067.3" rx="5.0" ry="4.9" fill="#D98A80" />
<ellipse cx="1145.2" cy="1061.0" rx="3.7" ry="4.6" fill="#E8B850" />
<ellipse cx="1143.1" cy="1066.6" rx="4.1" ry="2.9" fill="#E6A060" />
<ellipse cx="1147.4" cy="1100.0" rx="3.2" ry="3.0" fill="#D98A80" />
<ellipse cx="1145.8" cy="1124.5" rx="4.1" ry="3.7" fill="#E09068" />
<ellipse cx="1148.2" cy="1066.1" rx="4.2" ry="2.8" fill="#E09068" />
<ellipse cx="1154.5" cy="1068.4" rx="6.1" ry="3.5" fill="#D98A80" />
<ellipse cx="1134.1" cy="1092.7" rx="4.4" ry="4.6" fill="#B858C4" />
<ellipse cx="1134.4" cy="1098.6" rx="3.7" ry="4.1" fill="#C060B8" />
<ellipse cx="1132.8" cy="1064.2" rx="3.5" ry="3.7" fill="#B858C4" />
<ellipse cx="1134.3" cy="1119.2" rx="4.8" ry="3.0" fill="#C060B8" />
<ellipse cx="1136.0" cy="1062.0" rx="3.2" ry="3.9" fill="#C060B8" />
<ellipse cx="1135.0" cy="1110.2" rx="3.8" ry="3.2" fill="#B858C4" />
<ellipse cx="1134.3" cy="1092.1" rx="3.9" ry="5.0" fill="#C060B8" />
<ellipse cx="1133.2" cy="1095.0" rx="4.6" ry="4.9" fill="#CC6CA8" />
<ellipse cx="1132.3" cy="1065.9" rx="3.2" ry="3.4" fill="#B858C4" />
<ellipse cx="1131.2" cy="1088.8" rx="3.2" ry="4.4" fill="#B858C4" />
<ellipse cx="1122.0" cy="1091.9" rx="6.0" ry="5.5" fill="#C05ABF" />
<ellipse cx="1164.0" cy="1091.9" rx="5.5" ry="5.5" fill="#EAC040" />
<rect x="1127.4" y="1162.0" width="32.9" height="84.0" rx="5.0" fill="#D88C84" />
<rect x="1127.4" y="1162.0" width="10.1" height="84.0" rx="4.0" fill="#B458C8" />
<ellipse cx="1149.9" cy="1182.6" rx="5.3" ry="3.6" fill="#D07890" />
<ellipse cx="1145.8" cy="1205.5" rx="6.3" ry="4.1" fill="#E2A868" />
<ellipse cx="1152.8" cy="1194.2" rx="3.3" ry="4.9" fill="#D07890" />
<ellipse cx="1147.9" cy="1188.4" rx="6.4" ry="4.0" fill="#E2A868" />
<ellipse cx="1151.0" cy="1177.7" rx="4.8" ry="4.2" fill="#D8807E" />
<ellipse cx="1145.2" cy="1168.3" rx="6.9" ry="4.0" fill="#D8807E" />
<ellipse cx="1149.5" cy="1223.2" rx="3.8" ry="4.8" fill="#D8807E" />
<ellipse cx="1148.1" cy="1172.6" rx="4.3" ry="3.9" fill="#E8B058" />
<ellipse cx="1153.6" cy="1238.1" rx="4.3" ry="3.8" fill="#D8807E" />
<ellipse cx="1154.0" cy="1215.4" rx="3.1" ry="3.7" fill="#E8B058" />
<ellipse cx="1148.0" cy="1237.2" rx="6.7" ry="2.7" fill="#E8B058" />
<ellipse cx="1153.0" cy="1199.9" rx="3.6" ry="4.9" fill="#D8807E" />
<ellipse cx="1148.3" cy="1185.5" rx="6.8" ry="3.6" fill="#E2A868" />
<ellipse cx="1154.4" cy="1187.1" rx="3.6" ry="3.8" fill="#E2A868" />
<ellipse cx="1153.7" cy="1223.9" rx="3.7" ry="4.1" fill="#D07890" />
<ellipse cx="1146.3" cy="1207.3" rx="6.1" ry="3.3" fill="#E0A070" />
<ellipse cx="1143.4" cy="1200.2" rx="4.3" ry="3.3" fill="#E8B058" />
<ellipse cx="1148.9" cy="1231.7" rx="3.6" ry="4.8" fill="#E8B058" />
<ellipse cx="1148.9" cy="1204.0" rx="7.0" ry="3.2" fill="#D8807E" />
<ellipse cx="1147.8" cy="1198.2" rx="5.0" ry="3.7" fill="#E8B058" />
<ellipse cx="1151.7" cy="1208.3" rx="4.4" ry="3.5" fill="#E0A070" />
<ellipse cx="1145.2" cy="1167.7" rx="6.9" ry="3.5" fill="#E8B058" />
<ellipse cx="1143.6" cy="1211.9" rx="3.3" ry="3.4" fill="#D07890" />
<ellipse cx="1153.1" cy="1233.9" rx="3.6" ry="4.7" fill="#E2A868" />
<ellipse cx="1151.0" cy="1198.6" rx="5.9" ry="4.7" fill="#E8B058" />
<ellipse cx="1146.7" cy="1212.8" rx="6.6" ry="2.9" fill="#D8807E" />
<ellipse cx="1152.6" cy="1202.5" rx="5.6" ry="4.0" fill="#E0A070" />
<ellipse cx="1152.0" cy="1219.9" rx="6.8" ry="3.6" fill="#E0A070" />
<ellipse cx="1153.2" cy="1236.6" rx="3.2" ry="4.8" fill="#E2A868" />
<ellipse cx="1147.0" cy="1196.8" rx="3.7" ry="3.7" fill="#D8807E" />
<ellipse cx="1146.0" cy="1190.0" rx="9.0" ry="4.0" fill="#E8A850" />
<ellipse cx="1121.0" cy="1204.0" rx="6.5" ry="5.7" fill="#B850D0" />
<rect x="1129.9" y="1272.1" width="30.8" height="88.0" rx="5.0" fill="#E3A862" />
<ellipse cx="1153.7" cy="1313.4" rx="4.8" ry="3.9" fill="#ECC048" />
<ellipse cx="1150.4" cy="1314.2" rx="6.4" ry="3.0" fill="#ECC048" />
<ellipse cx="1142.2" cy="1283.9" rx="6.2" ry="2.7" fill="#E4A060" />
<ellipse cx="1144.6" cy="1334.5" rx="5.4" ry="3.5" fill="#E8B458" />
<ellipse cx="1137.6" cy="1281.3" rx="5.5" ry="4.6" fill="#E8B458" />
<ellipse cx="1142.3" cy="1322.9" rx="5.4" ry="4.4" fill="#E8B458" />
<ellipse cx="1145.5" cy="1328.4" rx="5.1" ry="4.1" fill="#E6A868" />
<ellipse cx="1146.4" cy="1349.3" rx="5.6" ry="3.5" fill="#E4A060" />
<ellipse cx="1140.8" cy="1299.7" rx="5.8" ry="3.3" fill="#E4A060" />
<ellipse cx="1138.2" cy="1299.7" rx="5.3" ry="2.8" fill="#E4A060" />
<ellipse cx="1137.8" cy="1294.4" rx="6.8" ry="4.6" fill="#E4A060" />
<ellipse cx="1143.5" cy="1284.4" rx="4.9" ry="5.0" fill="#E8B458" />
<ellipse cx="1138.6" cy="1303.1" rx="6.1" ry="3.2" fill="#E6A868" />
<ellipse cx="1141.2" cy="1284.8" rx="6.0" ry="2.8" fill="#E4A060" />
<ellipse cx="1149.0" cy="1292.2" rx="4.9" ry="3.7" fill="#ECC048" />
<ellipse cx="1137.6" cy="1326.9" rx="3.8" ry="4.3" fill="#E4A060" />
<ellipse cx="1135.6" cy="1343.0" rx="4.6" ry="5.0" fill="#ECC048" />
<ellipse cx="1139.6" cy="1308.2" rx="4.2" ry="4.7" fill="#ECC048" />
<ellipse cx="1154.2" cy="1293.6" rx="5.6" ry="2.8" fill="#D88A80" />
<ellipse cx="1153.1" cy="1307.4" rx="3.0" ry="4.0" fill="#E4A060" />
<ellipse cx="1139.8" cy="1323.8" rx="3.4" ry="4.0" fill="#D88A80" />
<ellipse cx="1147.1" cy="1342.1" rx="5.5" ry="2.8" fill="#E8B458" />
<ellipse cx="1139.9" cy="1348.0" rx="6.5" ry="3.0" fill="#ECC048" />
<ellipse cx="1150.5" cy="1350.4" rx="4.0" ry="3.0" fill="#E8B458" />
<ellipse cx="1145.2" cy="1283.6" rx="5.7" ry="3.5" fill="#E4A060" />
<ellipse cx="1155.8" cy="1295.4" rx="3.4" ry="2.6" fill="#E6A868" />
<ellipse cx="1147.5" cy="1300.6" rx="4.0" ry="4.6" fill="#E8B458" />
<ellipse cx="1139.7" cy="1314.5" rx="6.7" ry="4.9" fill="#ECC048" />
<ellipse cx="1153.0" cy="1293.1" rx="5.5" ry="3.2" fill="#E4A060" />
<ellipse cx="1139.9" cy="1281.2" rx="3.3" ry="3.5" fill="#D88A80" />
<rect x="1129.6" y="1384.6" width="32.6" height="87.0" rx="6.0" fill="#E4AA58" />
<ellipse cx="1143.5" cy="1401.8" rx="4.4" ry="4.1" fill="#E8B450" />
<ellipse cx="1142.8" cy="1425.2" rx="6.0" ry="3.7" fill="#E09868" />
<ellipse cx="1137.4" cy="1423.7" rx="4.7" ry="4.2" fill="#E09868" />
<ellipse cx="1142.5" cy="1405.3" rx="4.0" ry="3.0" fill="#ECC048" />
<ellipse cx="1137.0" cy="1458.7" rx="5.0" ry="4.5" fill="#E09868" />
<ellipse cx="1148.0" cy="1400.2" rx="3.3" ry="5.0" fill="#E4A060" />
<ellipse cx="1145.0" cy="1432.4" rx="5.9" ry="3.8" fill="#E8B450" />
<ellipse cx="1136.6" cy="1436.1" rx="4.7" ry="3.8" fill="#E4A060" />
<ellipse cx="1135.8" cy="1445.1" rx="4.4" ry="3.5" fill="#E09868" />
<ellipse cx="1140.2" cy="1418.0" rx="5.9" ry="4.2" fill="#E4A060" />
<ellipse cx="1138.6" cy="1417.7" rx="5.0" ry="2.8" fill="#E09868" />
<ellipse cx="1140.5" cy="1429.5" rx="3.1" ry="4.6" fill="#E09868" />
<ellipse cx="1138.3" cy="1436.4" rx="5.0" ry="2.6" fill="#E09868" />
<ellipse cx="1135.0" cy="1411.7" rx="3.5" ry="4.2" fill="#ECC048" />
<ellipse cx="1141.7" cy="1418.5" rx="4.8" ry="4.3" fill="#ECC048" />
<ellipse cx="1147.6" cy="1426.7" rx="3.8" ry="3.7" fill="#E09868" />
<ellipse cx="1137.6" cy="1447.9" rx="4.4" ry="3.9" fill="#E09868" />
<ellipse cx="1139.3" cy="1449.0" rx="5.7" ry="2.5" fill="#ECC048" />
<ellipse cx="1141.5" cy="1409.7" rx="3.5" ry="4.5" fill="#E8B450" />
<ellipse cx="1141.5" cy="1393.8" rx="6.0" ry="5.0" fill="#ECC048" />
<ellipse cx="1139.4" cy="1400.0" rx="5.6" ry="4.2" fill="#E4A060" />
<ellipse cx="1143.7" cy="1424.0" rx="4.5" ry="3.4" fill="#E09868" />
<ellipse cx="1135.9" cy="1415.6" rx="4.3" ry="4.0" fill="#E4A060" />
<ellipse cx="1139.2" cy="1409.5" rx="5.1" ry="3.0" fill="#E8B450" />
<rect x="1152.0" y="1384.6" width="10.2" height="87.0" rx="5.0" fill="#D46CA0" />
<ellipse cx="1155.0" cy="1464.7" rx="4.9" ry="3.3" fill="#D068A8" />
<ellipse cx="1157.2" cy="1448.9" rx="4.4" ry="4.5" fill="#D068A8" />
<ellipse cx="1155.1" cy="1435.2" rx="3.5" ry="4.9" fill="#D87890" />
<ellipse cx="1156.7" cy="1396.4" rx="4.4" ry="4.8" fill="#D068A8" />
<ellipse cx="1154.9" cy="1453.6" rx="4.2" ry="3.6" fill="#D87890" />
<ellipse cx="1157.9" cy="1460.1" rx="4.1" ry="4.5" fill="#D068A8" />
<ellipse cx="1155.2" cy="1460.8" rx="4.4" ry="4.2" fill="#C860B0" />
<ellipse cx="1157.1" cy="1429.2" rx="4.8" ry="4.7" fill="#C860B0" />
<ellipse cx="1155.1" cy="1396.0" rx="4.7" ry="4.3" fill="#D87890" />
<ellipse cx="1155.4" cy="1412.5" rx="4.8" ry="3.8" fill="#C860B0" />
<ellipse cx="1150.0" cy="1434.1" rx="8.0" ry="4.0" fill="#D070A8" />
<ellipse cx="1163.0" cy="1428.1" rx="4.0" ry="4.5" fill="#B860C0" />
<rect x="1128.7" y="1496.7" width="28.5" height="87.0" rx="5.0" fill="#EDC23C" />
<rect x="1150.0" y="1608.2" width="12.6" height="88.0" rx="5.0" fill="#6A0EF6" />
<rect x="1134.4" y="1608.2" width="19.6" height="88.0" rx="5.0" fill="#EEC93A" />
<ellipse cx="1149.0" cy="1622.2" rx="5.0" ry="2.5" fill="#6A0EF6" />
<ellipse cx="1149.0" cy="1652.2" rx="5.0" ry="2.0" fill="#6A0EF6" />
<ellipse cx="1144.4" cy="1764.8" rx="11.0" ry="5.0" fill="#EEC93A" />
<ellipse cx="1144.9" cy="1876.7" rx="10.3" ry="4.5" fill="#EEC03A" />
</g>
<text x="396.7" y="96.6" fill="#000" stroke="#000" stroke-width="0.35" font-size="37" letter-spacing="-0.13">Poverty</text>
<text x="454.4" y="205.8" fill="#1E00F2" stroke="#1E00F2" stroke-width="0.35" font-size="37" letter-spacing="0.80">Year</text>
<text x="457.3" y="315.9" fill="#000" stroke="#000" stroke-width="0.35" font-size="37" letter-spacing="1.70">Man</text>
<text x="346.8" y="428.9" fill="#000" stroke="#000" stroke-width="0.35" font-size="37" letter-spacing="0.42">Black race</text>
<text x="52.4" y="539.7" fill="#EE1A14" stroke="#EE1A14" stroke-width="0.35" font-size="37" letter-spacing="0.43">Mean ambient temperature</text>
<text x="342.5" y="656.6" fill="#000" stroke="#000" stroke-width="0.35" font-size="37" letter-spacing="0.49">Asian race</text>
<text x="326.0" y="767.9" fill="#000" stroke="#000" stroke-width="0.35" font-size="37" letter-spacing="0.47">Median age</text>
<text x="53.7" y="882.8" fill="#000" stroke="#000" stroke-width="0.35" font-size="37" letter-spacing="0.45">with Highschool education</text>
<text x="125.2" y="992.3" fill="#EE1A14" stroke="#EE1A14" stroke-width="0.35" font-size="37" letter-spacing="0.35">Mean relative humidity</text>
<text x="61.5" y="1103.5" fill="#EE1A14" stroke="#EE1A14" stroke-width="0.35" font-size="37" letter-spacing="0.40">Diurnal temperature range</text>
<text x="39.7" y="1210.6" fill="#EE1A14" stroke="#EE1A14" stroke-width="0.35" font-size="37" letter-spacing="0.24">Difference relative humidity</text>
<text x="132.5" y="1327.4" fill="#EE1A14" stroke="#EE1A14" stroke-width="0.35" font-size="37" letter-spacing="0.48">Difference wind speed</text>
<text x="221.6" y="1437.4" fill="#EE1A14" stroke="#EE1A14" stroke-width="0.35" font-size="37" letter-spacing="0.66">Mean wind speed</text>
<text x="108.9" y="1550.0" fill="#EE1A14" stroke="#EE1A14" stroke-width="0.35" font-size="37" letter-spacing="0.41">Difference precipitation</text>
<text x="380.8" y="1664.5" fill="#1E00F2" stroke="#1E00F2" stroke-width="0.35" font-size="37" letter-spacing="0.17">January</text>
<text x="191.5" y="1771.0" fill="#EE1A14" stroke="#EE1A14" stroke-width="0.35" font-size="37" letter-spacing="0.55">Mean precipitation</text>
<text x="364.4" y="1882.3" fill="#1E00F2" stroke="#1E00F2" stroke-width="0.35" font-size="37" letter-spacing="0.09">February</text>
<text x="709.2" y="1980.0" fill="#000" stroke="#000" stroke-width="0.35" font-size="37.5" letter-spacing="0.47">-0.2</text>
<text x="903.0" y="1980.4" fill="#000" stroke="#000" stroke-width="0.35" font-size="37.5" letter-spacing="-0.73">-0.1</text>
<text x="1117.7" y="1981.0" fill="#000" stroke="#000" stroke-width="0.35" font-size="37.5">0.0</text>
<text x="1319.4" y="1980.5" fill="#000" stroke="#000" stroke-width="0.35" font-size="37.5" letter-spacing="-1.60">0.1</text>
<text x="1516.5" y="1980.5" fill="#000" stroke="#000" stroke-width="0.35" font-size="37.5" letter-spacing="0.70">0.2</text>
<text x="770.9" y="2050.6" fill="#000" stroke="#000" stroke-width="0.35" font-size="37.5" letter-spacing="0.08">SHAP value (impact on model output)</text>
<text x="430.4" y="2103.3" fill="#000" stroke="#000" stroke-width="0.35" font-size="37.5" letter-spacing="0.08">Feature value</text>
<text x="717.8" y="2142.3" fill="#000" stroke="#000" stroke-width="0.35" font-size="37.5" letter-spacing="-1.00">Low</text>
<text x="1512.4" y="2142.2" fill="#000" stroke="#000" stroke-width="0.35" font-size="37.5" letter-spacing="0.07">High</text>
<text transform="translate(363.00,99.10) scale(0.8895,1.2028)" fill="#000" font-size="37">%</text>
<text transform="translate(424.70,318.10) scale(0.8745,1.2028)" fill="#000" font-size="37">%</text>
<text transform="translate(314.10,430.80) scale(0.8696,1.1711)" fill="#000" font-size="37">%</text>
<text transform="translate(310.20,659.10) scale(0.8683,1.2028)" fill="#000" font-size="37">%</text>
<text transform="translate(9.80,884.80) scale(0.8749,1.1469)" fill="#000" font-size="37">%</text>
<rect x="706.5" y="2084" width="891.5" height="11.5" rx="5.5" fill="url(#cb)"/>
</svg></body></html>
